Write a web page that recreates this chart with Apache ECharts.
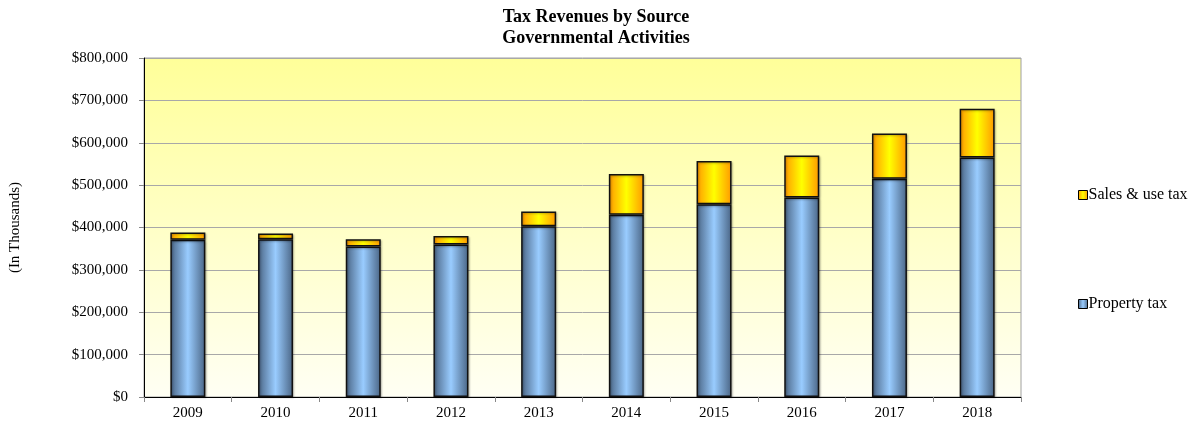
<!DOCTYPE html>
<html>
<head>
<meta charset="utf-8">
<script src="https://cdn.jsdelivr.net/npm/echarts@6/dist/echarts.min.js"></script>
<style>html,body{margin:0;padding:0;background:#fff;}#c{width:1196px;height:423px;}</style>
</head>
<body>
<div id="c"></div>
<script>
const years = ['2009','2010','2011','2012','2013','2014','2015','2016','2017','2018'];
const propertyTax = [371000, 372000, 355000, 360000, 403000, 430000, 455000, 471000, 515000, 565000];
const salesUseTax = [17000, 14000, 17000, 20000, 35000, 96000, 102000, 99000, 107000, 115000];
const yTicks = [0, 100000, 200000, 300000, 400000, 500000, 600000, 700000, 800000];

const font = 'Liberation Serif, Times New Roman, serif';
const chart = echarts.init(document.getElementById('c'));

function hGrad(edge, mid) {
  return new echarts.graphic.LinearGradient(0, 0, 1, 0, [
    {offset: 0, color: edge}, {offset: 0.5, color: mid}, {offset: 1, color: edge}
  ]);
}

chart.setOption({
  animation: false,
  title: {
    text: 'Tax Revenues by Source\nGovernmental Activities',
    left: 591, textAlign: 'center', top: 2,
    textStyle: {fontFamily: font, fontWeight: 'bold', fontSize: 18, lineHeight: 21, color: '#000'}
  },
  legend: {
    orient: 'vertical', left: 1073, top: 182, itemGap: 93,
    itemWidth: 9, itemHeight: 9, icon: 'rect',
    data: ['Sales & use tax', 'Property tax'],
    textStyle: {fontFamily: font, fontSize: 16, color: '#000', padding: [0,0,0,-4]},
    itemStyle: {borderColor: '#000', borderWidth: 1}
  },
  grid: {
    left: 144, right: 175, top: 58, bottom: 26,
    outerBoundsMode: 'none', containLabel: false,
    show: true, borderColor: '#a0a0a0', borderWidth: 1,
    backgroundColor: new echarts.graphic.LinearGradient(0, 0, 0, 1, [
      {offset: 0, color: '#ffff99'}, {offset: 1, color: '#fffff4'}
    ])
  },
  xAxis: {
    type: 'category', data: years,
    axisLine: {lineStyle: {color: '#000', width: 1}},
    axisTick: {show: true, alignWithLabel: false, length: 5, lineStyle: {color: '#888'}},
    axisLabel: {fontFamily: font, fontSize: 15, color: '#000', margin: 9}
  },
  yAxis: {
    type: 'value', min: yTicks[0], max: yTicks[yTicks.length-1], interval: 100000,
    name: '(In Thousands)', nameLocation: 'middle', nameGap: 121, nameRotate: 90,
    nameTextStyle: {fontFamily: font, fontSize: 15, color: '#000'},
    axisLine: {show: true, lineStyle: {color: '#000', width: 1}},
    axisTick: {show: true, length: 5, lineStyle: {color: '#888'}},
    splitLine: {lineStyle: {color: '#a8a8a8', width: 1}},
    axisLabel: {fontFamily: font, fontSize: 15, color: '#000', margin: 16,
      formatter: v => '$' + v.toLocaleString('en-US')}
  },
  series: [
    {
      name: 'Property tax', type: 'bar', stack: 'a', data: propertyTax, barWidth: 35,
      itemStyle: {color: hGrad('#4a6585', '#99ccff'), borderColor: '#111', borderWidth: 1.5,
        shadowColor: 'rgba(0,0,0,0.25)', shadowBlur: 2, shadowOffsetX: 1, shadowOffsetY: 1}
    },
    {
      name: 'Sales & use tax', type: 'bar', stack: 'a', data: salesUseTax, barWidth: 35,
      itemStyle: {color: hGrad('#ff9900', '#ffff00'), borderColor: '#111', borderWidth: 1.5,
        shadowColor: 'rgba(0,0,0,0.25)', shadowBlur: 2, shadowOffsetX: 1, shadowOffsetY: 1}
    }
  ]
});
</script>
</body>
</html>
